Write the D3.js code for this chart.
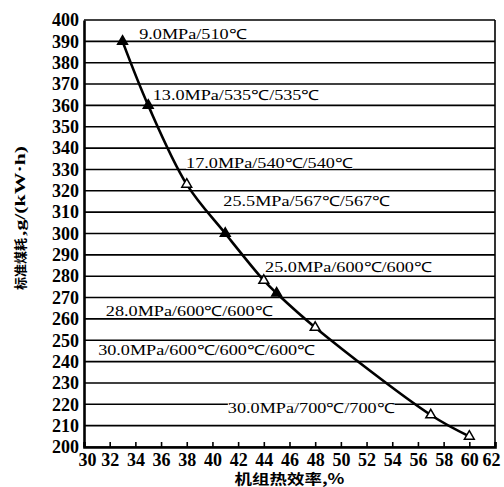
<!DOCTYPE html>
<html>
<head>
<meta charset="utf-8">
<script src="https://cdn.jsdelivr.net/npm/d3@7"></script>
<style>
  body { margin: 0; background: #fff; }
  svg { display: block; }
</style>
</head>
<body>
<div id="chart"></div>
<script>
// 1: DATA
const efficiency = [33, 35, 38, 41, 44, 45, 48, 57, 60];
const coalRate = [390, 360, 323, 300, 278, 272, 256, 215, 205];
const markerFilled = [true, true, false, true, false, true, false, false, false];

const xTicks = d3.range(30, 63, 2);
const yTicks = d3.range(200, 401, 10);

// parameter labels, anchored in data units (x start, baseline value)
const labelText = [
  "9.0MPa/510℃",
  "13.0MPa/535℃/535℃",
  "17.0MPa/540℃/540℃",
  "25.5MPa/567℃/567℃",
  "25.0MPa/600℃/600℃",
  "28.0MPa/600℃/600℃",
  "30.0MPa/600℃/600℃/600℃",
  "30.0MPa/700℃/700℃"
];
const labelX = [34.3, 35.35, 37.95, 40.85, 44.1, 31.7, 31.1, 41.2];
const labelY = [391.3, 362.5, 330.7, 312.9, 282, 261.4, 243.1, 215.9];

const xTitle = "机组热效率,%";
const yTitleCjk = "标准煤耗";
const yTitleUnit = ",g/(kW·h)";

// 2: LAYOUT
const W = 504, H = 487;
const margin = { top: 20, right: 9, bottom: 40, left: 84 };
const width = W - margin.left - margin.right;
const height = H - margin.top - margin.bottom;
const serif = "'Liberation Serif', 'Times New Roman', serif";
const cjk = "'Noto Sans CJK SC', sans-serif";

const svg = d3.select("#chart").append("svg")
    .attr("width", W)
    .attr("height", H);

const g = svg.append("g")
    .attr("transform", `translate(${margin.left},${margin.top})`);

const x = d3.scaleLinear().domain([30, 62]).range([0, width]);
const y = d3.scaleLinear().domain([200, 400]).range([height, 0]);

// 3: GRID
g.selectAll(".grid")
    .data(yTicks)
    .join("line")
    .attr("x1", 0).attr("x2", width)
    .attr("y1", d => y(d)).attr("y2", d => y(d))
    .attr("stroke", "#000")
    .attr("stroke-width", 1.6);

// frame
g.append("line").attr("x1", width).attr("x2", width).attr("y1", 0).attr("y2", height)
    .attr("stroke", "#000").attr("stroke-width", 1.6);

// 4: AXES
const yAxis = g.append("g")
    .call(d3.axisLeft(y).tickValues(yTicks).tickSize(0).tickPadding(5));
yAxis.select(".domain").attr("stroke-width", 2.6);
yAxis.selectAll("text")
    .attr("font-family", serif)
    .attr("font-weight", "bold")
    .attr("font-size", 18)
    .attr("fill", "#000");

const xAxis = g.append("g")
    .attr("transform", `translate(0,${height})`)
    .call(d3.axisBottom(x).tickValues(xTicks).tickSize(-5).tickPadding(6));
xAxis.select(".domain").attr("stroke-width", 2.6);
xAxis.selectAll(".tick line").attr("stroke-width", 1.6);
xAxis.selectAll("text")
    .attr("font-family", serif)
    .attr("font-weight", "bold")
    .attr("font-size", 18)
    .attr("fill", "#000")
    .attr("dx", (d, i) => i === 0 ? 3 : (i === xTicks.length - 1 ? -4 : 0));

// 5: CURVE
const points = efficiency.map((e, i) => ({ e, c: coalRate[i], filled: markerFilled[i] }));

const line = d3.line()
    .x(d => x(d.e))
    .y(d => y(d.c))
    .curve(d3.curveCatmullRom.alpha(0.5));

g.append("path")
    .datum(points)
    .attr("fill", "none")
    .attr("stroke", "#000")
    .attr("stroke-width", 2.6)
    .attr("d", line);

g.selectAll(".marker")
    .data(points)
    .join("path")
    .attr("transform", d => `translate(${x(d.e)},${y(d.c)})`)
    .attr("d", d3.symbol(d3.symbolTriangle, 42))
    .attr("fill", d => d.filled ? "#000" : "#fff")
    .attr("stroke", "#000")
    .attr("stroke-width", 1.5);

// 6: PARAMETER LABELS
const fs = 14, sx = 1.3;
labelText.forEach((t, i) => {
    const lx = x(labelX[i]), ly = y(labelY[i]);
    const lg = g.append("g").attr("transform", `translate(${lx},${ly})`);
    const bg = lg.append("rect").attr("fill", "#fff");
    const txt = lg.append("text")
        .attr("transform", `scale(${sx},1)`)
        .attr("font-family", serif)
        .attr("font-size", fs)
        .attr("fill", "#000")
        .text(t);
    const w = txt.node().getComputedTextLength() * sx;
    bg.attr("x", 0).attr("y", -fs * 0.7).attr("width", w).attr("height", fs * 0.7 + 1);
});

// 7: TITLES
svg.append("text")
    .attr("transform", `translate(${margin.left + x(46)},${H - 3}) scale(1.25,1)`)
    .attr("text-anchor", "middle")
    .attr("font-family", cjk)
    .attr("font-weight", "bold")
    .attr("font-size", 14)
    .attr("fill", "#000")
    .text(xTitle);

const yt = svg.append("g")
    .attr("transform", "translate(25,290) rotate(-90)");
yt.append("text")
    .attr("font-family", cjk)
    .attr("font-weight", "bold")
    .attr("font-size", 13)
    .attr("fill", "#000")
    .text(yTitleCjk);
yt.append("text")
    .attr("x", 54)
    .attr("font-family", serif)
    .attr("font-weight", "bold")
    .attr("font-size", 15)
    .attr("textLength", 90)
    .attr("lengthAdjust", "spacingAndGlyphs")
    .attr("fill", "#000")
    .text(yTitleUnit);
</script>
</body>
</html>
